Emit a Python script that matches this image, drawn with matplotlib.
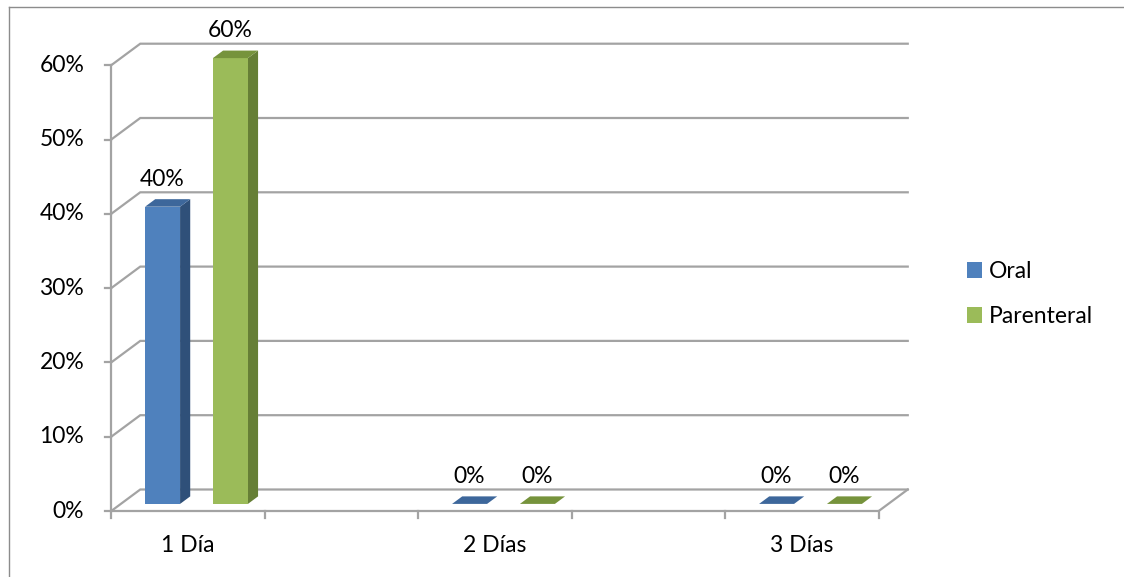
import matplotlib
matplotlib.use("Agg")
import matplotlib.pyplot as plt
from matplotlib.patches import Polygon, Patch
from matplotlib.lines import Line2D

# chart data
categories = ["1 Día", "2 Días", "3 Días"]
series_names = ["Oral", "Parenteral"]
oral = [40, 0, 0]
parenteral = [60, 0, 0]
y_ticks = [0, 10, 20, 30, 40, 50, 60]
y_tick_labels = ["0%", "10%", "20%", "30%", "40%", "50%", "60%"]

plt.rcParams["font.family"] = ["Lato", "DejaVu Sans"]
FS = 16.5

W, H = 1124, 577
# screen layout in pixels
X0_PX, CAT_PX = 188, 307
Y0_PX, PCT_PX = 511, 7.43

DX = 29 / CAT_PX      # depth of the box along x (category units)
DY = 21.5 / PCT_PX    # depth of the box along y (percent units)
Z_FRONT, Z_BACK = 0.33, 0.68
BAR_W = 0.114
SERIES_OFFSET = [-0.171, 0.050]
X_MIN, X_MAX = -0.25, 2.25

GRID = "#A3A3A3"
FRONT = ["#4F81BD", "#9BBB59"]
SIDE = ["#2F5079", "#667F36"]
TOP = ["#3D679B", "#76933C"]


def proj(x, y, z):
    return x + z * DX, y + z * DY


fig = plt.figure(figsize=(W / 100, H / 100), dpi=100)
ax = fig.add_axes([0, 0, 1, 1])
ax.set_xlim(-X0_PX / CAT_PX, (W - X0_PX) / CAT_PX)
ax.set_ylim(-(H - Y0_PX) / PCT_PX, Y0_PX / PCT_PX)
ax.axis("off")

# back wall gridlines with the diagonals on the side wall
for t in y_ticks:
    pts = [proj(X_MIN, t, 0), proj(X_MIN, t, 1), proj(X_MAX, t, 1)]
    ax.plot([p[0] for p in pts], [p[1] for p in pts], color=GRID, lw=1.6,
            solid_joinstyle="miter", zorder=1)

# front floor edge and right diagonal
pts = [proj(X_MIN, 0, 0), proj(X_MAX, 0, 0), proj(X_MAX, 0, 1)]
ax.plot([p[0] for p in pts], [p[1] for p in pts], color=GRID, lw=1.6, zorder=1)

# vertical axis
ax.plot([X_MIN, X_MIN], [0, y_ticks[-1]], color=GRID, lw=1.6, zorder=1)
tick_dx = 6 / CAT_PX
for t, lab in zip(y_ticks, y_tick_labels):
    ax.plot([X_MIN - tick_dx, X_MIN], [t, t], color=GRID, lw=1.6, zorder=1)
    ax.annotate(lab, xy=(X_MIN, t), xytext=(-27, 0), textcoords="offset pixels",
                ha="right", va="center", fontsize=FS, color="#000000")

# category ticks on the front edge
tick_dy = 7 / PCT_PX
k = 0
while X_MIN + k * 0.5 <= X_MAX + 1e-9:
    xt = X_MIN + k * 0.5
    ax.plot([xt, xt], [0, -tick_dy], color=GRID, lw=1.6, zorder=1)
    k += 1

for i, cat in enumerate(categories):
    ax.annotate(cat, xy=(i, 0), xytext=(0, -34), textcoords="offset pixels",
                ha="center", va="center", fontsize=FS)

# 3D columns
for s, values in enumerate([oral, parenteral]):
    for i, v in enumerate(values):
        xl = i + SERIES_OFFSET[s]
        xr = xl + BAR_W
        fx, fy = proj(xl, 0, Z_FRONT)
        ax.bar(fx, v, width=BAR_W, bottom=fy, align="edge",
               color=FRONT[s], lw=0, zorder=3)
        side = [proj(xr, 0, Z_FRONT), proj(xr, v, Z_FRONT),
                proj(xr, v, Z_BACK), proj(xr, 0, Z_BACK)]
        ax.add_patch(Polygon(side, closed=True, facecolor=SIDE[s], lw=0, zorder=2))
        top = [proj(xl, v, Z_FRONT), proj(xr, v, Z_FRONT),
               proj(xr, v, Z_BACK), proj(xl, v, Z_BACK)]
        ax.add_patch(Polygon(top, closed=True, facecolor=TOP[s], lw=0, zorder=4))
        ax.annotate(f"{v}%", xy=proj(xl + BAR_W / 2, v, Z_FRONT), xytext=(0, 27.5),
                    textcoords="offset pixels", ha="center", va="center",
                    fontsize=FS)

handles = [Patch(facecolor=c, edgecolor="none") for c in FRONT]
fig.legend(handles, series_names, loc="center left",
           bbox_to_anchor=(967 / W, 1 - 294 / H), frameon=False, fontsize=FS,
           handlelength=0.66, handleheight=0.66, handletextpad=0.3,
           labelspacing=1.05, borderpad=0, borderaxespad=0)

# chart area border
fig.add_artist(Line2D([8.5 / W, 8.5 / W], [0, 1 - 6.5 / H], color="#8C8C8C", lw=1,
                      transform=fig.transFigure))
fig.add_artist(Line2D([8.5 / W, 1], [1 - 6.5 / H, 1 - 6.5 / H], color="#8C8C8C", lw=1,
                      transform=fig.transFigure))

fig.savefig("out.png", dpi=100)
